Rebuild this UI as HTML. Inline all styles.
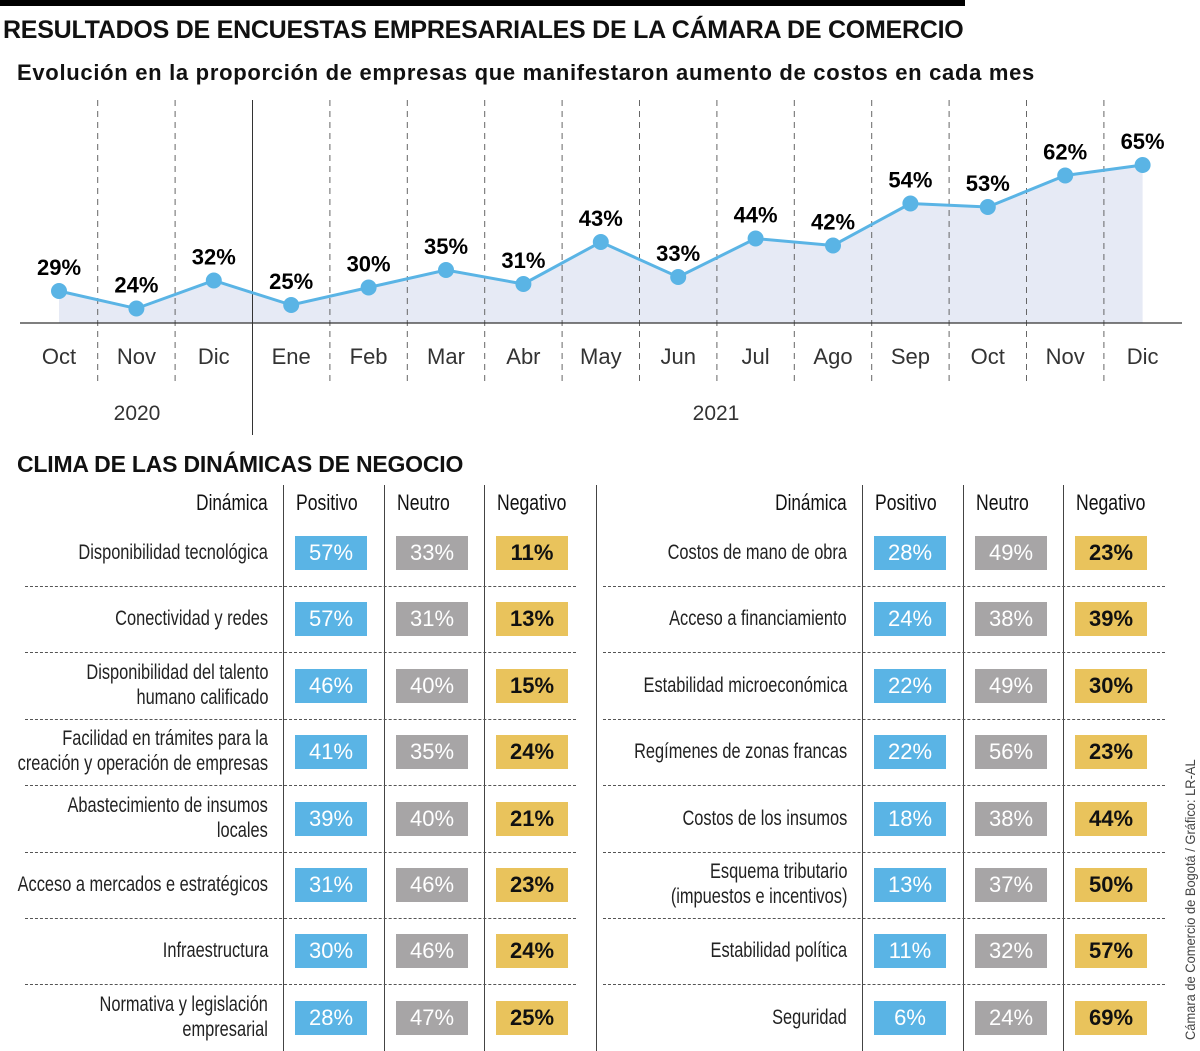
<!DOCTYPE html>
<html><head><meta charset="utf-8"><style>
body{margin:0;background:#fff;width:1200px;height:1051px;overflow:hidden;position:relative;font-family:"Liberation Sans",sans-serif;color:#111}
.t{position:absolute;white-space:nowrap}
.sq{display:inline-block;transform:scaleX(0.78);transform-origin:100% 50%}
.sql{display:inline-block;transform:scaleX(0.8);transform-origin:0 50%}
</style></head><body>
<div style="position:absolute;left:0;top:0;width:965px;height:6px;background:#000"></div>
<div class="t" style="left:3px;top:16px;font-size:25px;font-weight:bold;letter-spacing:-0.25px">RESULTADOS DE ENCUESTAS EMPRESARIALES DE LA CÁMARA DE COMERCIO</div>
<div class="t" style="left:17px;top:60px;font-size:22px;font-weight:bold;letter-spacing:0.7px">Evolución en la proporción de empresas que manifestaron aumento de costos en cada mes</div>
<svg id="chart" style="position:absolute;left:0;top:0" width="1200" height="440"></svg>
<div class="t" style="left:17px;top:451px;font-size:23px;font-weight:bold;letter-spacing:-0.2px">CLIMA DE LAS DINÁMICAS DE NEGOCIO</div>
<div id="tables"></div>
<div class="t" style="left:1182px;top:1040px;font-size:14px;color:#444;transform:rotate(-90deg) scaleX(0.92);transform-origin:0 0">Cámara de Comercio de Bogotá / Gráfico: LR-AL</div>
<script>
const months=["Oct","Nov","Dic","Ene","Feb","Mar","Abr","May","Jun","Jul","Ago","Sep","Oct","Nov","Dic"];
const values=[29,24,32,25,30,35,31,43,33,44,42,54,53,62,65];
const years=["2020","2021"];
const NS="http://www.w3.org/2000/svg";
const svg=document.getElementById('chart');
const xS=i=>59+i*77.4;
const yS=v=>392.5-3.5*v;
function mk(tag,attrs,name){const e=document.createElementNS(NS,tag);for(const k in attrs)e.setAttribute(k,attrs[k]);


svg.appendChild(e);return e;}
let d="M"+xS(0)+",323 "+values.map((v,i)=>"L"+xS(i)+","+yS(v)).join(" ")+" L"+xS(values.length-1)+",323Z";
mk('path',{d:d,fill:'#e6eaf5'},'area-fill');
for(let i=0;i<months.length-1;i++){const x=xS(i)+38.7;
 if(i===2)mk('line',{x1:x,y1:100,x2:x,y2:435,stroke:'#333','stroke-width':1},'year-divider');
 else mk('line',{x1:x,y1:100,x2:x,y2:385,stroke:'#666','stroke-width':1,'stroke-dasharray':'6,5'},'month-divider');}
mk('line',{x1:20,y1:323,x2:1182,y2:323,stroke:'#333','stroke-width':1.2},'x-axis');
mk('polyline',{points:values.map((v,i)=>xS(i)+","+yS(v)).join(" "),fill:'none',stroke:'#5ab4e5','stroke-width':3},'cost-line');
values.forEach((v,i)=>{mk('circle',{cx:xS(i),cy:yS(v),r:8,fill:'#5ab4e5'},'point-'+i);
 const t=mk('text',{x:xS(i),y:yS(v)-16,'text-anchor':'middle','font-size':22,'font-weight':'bold','font-family':'Liberation Sans'},'value-label');t.textContent=v+"%";
 const m=mk('text',{x:xS(i),y:364,'text-anchor':'middle','font-size':22,fill:'#333','font-family':'Liberation Sans'},'month-label');m.textContent=months[i];});
const y1=mk('text',{x:137,y:420,'text-anchor':'middle','font-size':21,fill:'#333','font-family':'Liberation Sans'},'year-label');y1.textContent=years[0];
const y2=mk('text',{x:716,y:420,'text-anchor':'middle','font-size':21,fill:'#333','font-family':'Liberation Sans'},'year-label');y2.textContent=years[1];

const leftLabels=["Disponibilidad tecnológica","Conectividad y redes","Disponibilidad del talento<br>humano calificado","Facilidad en trámites para la<br>creación y operación de empresas","Abastecimiento de insumos<br>locales","Acceso a mercados e estratégicos","Infraestructura","Normativa y legislación<br>empresarial"];
const leftPos=[57,57,46,41,39,31,30,28];
const leftNeu=[33,31,40,35,40,46,46,47];
const leftNeg=[11,13,15,24,21,23,24,25];
const rightLabels=["Costos de mano de obra","Acceso a financiamiento","Estabilidad microeconómica","Regímenes de zonas francas","Costos de los insumos","Esquema tributario<br>(impuestos e incentivos)","Estabilidad política","Seguridad"];
const rightPos=[28,24,22,22,18,13,11,6];
const rightNeu=[49,38,49,56,38,37,32,24];
const rightNeg=[23,39,30,23,44,50,57,69];
const T=document.getElementById('tables');
function div(html,style,name){const e=document.createElement('div');e.className='t';e.style.cssText=style;e.innerHTML=html;


T.appendChild(e);return e;}
function table(x0,labelRight,dividers,labels,pos,neu,neg,dashL,dashR){
 dividers.forEach(x=>div('',`left:${x}px;top:485px;width:1px;height:566px;background:#444`,'column-divider'));
 div('<span class="sq">Dinámica</span>',`left:${labelRight-200}px;width:200px;text-align:right;top:490px;font-size:22px`,'header-dinamica');
 ['Positivo','Neutro','Negativo'].forEach((h,j)=>div('<span class="sql">'+h+'</span>',`left:${dividers[j]+13}px;top:490px;font-size:22px`,'header-'+h.toLowerCase()));
 const cols=[pos,neu,neg],colors=['#5ab4e5','#a7a5a6','#e9c35c'],tc=['#fff','#fff','#111'];
 labels.forEach((l,i)=>{const cy=553+i*66.4;
  div('<span class="sq">'+l+'</span>',`left:${labelRight-400}px;width:400px;text-align:right;top:${cy-(l.includes('<br>')?26:13)}px;font-size:21px;line-height:25px;color:#222`,'row-label');
  cols.forEach((c,j)=>div(c[i]+'%',`left:${dividers[j]+12}px;top:${cy-17}px;width:72px;height:34px;line-height:34px;text-align:center;background:${colors[j]};color:${tc[j]};font-size:22px;font-weight:${j==2?'bold':'normal'}`,'value-cell'));
  if(i<labels.length-1)div('',`left:${dashL}px;top:${cy+33}px;width:${dashR-dashL}px;height:0;border-top:1px dashed #555`,'row-separator');
 });
}
table(0,268,[283,384,484],leftLabels,leftPos,leftNeu,leftNeg,25,576);
div('','left:596px;top:485px;width:1px;height:566px;background:#444','table-divider');
table(596,847,[862,963,1063],rightLabels,rightPos,rightNeu,rightNeg,603,1165);
</script>
</body></html>
